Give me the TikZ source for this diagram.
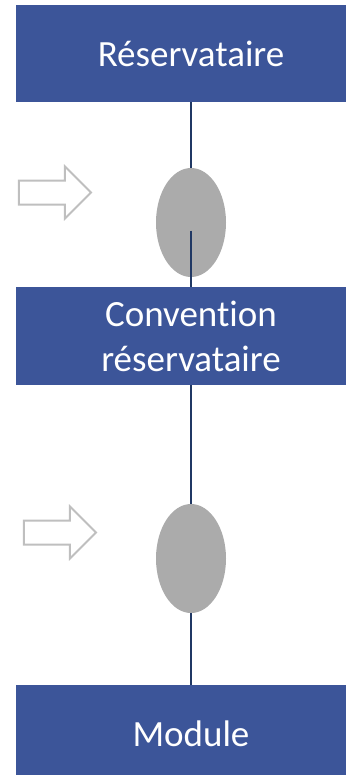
\documentclass[tikz,border=0pt]{standalone}
\usepackage{fontspec}
\setmainfont{Carlito}[Ligatures=NoCommon]
\usetikzlibrary{positioning, shapes.geometric, shapes.arrows}
\definecolor{boxblue}{HTML}{3C5599}
\definecolor{linknavy}{HTML}{203864}
\definecolor{stopgray}{HTML}{ABABAB}
\definecolor{arrowgray}{HTML}{BFBFBF}

\begin{document}
\begin{tikzpicture}[
  box/.style={fill=boxblue, minimum width=350bp, minimum height=97bp,
              inner sep=0pt, outer sep=0pt, text=white, align=center,
              font=\fontsize{37bp}{45bp}\selectfont},
  stop/.style={ellipse, fill=stopgray, minimum width=70bp, minimum height=109bp,
               inner sep=0pt, outer sep=0pt},
  push/.style={single arrow, draw=arrowgray, line width=2bp, fill=white,
               minimum height=72bp, single arrow head extend=14bp,
               inner xsep=0pt, inner ysep=11bp, outer sep=0pt},
  link/.style={draw=linknavy, line width=1.3bp}
]
  \useasboundingbox (0,0) rectangle (346bp,-775bp);
  \clip (0,0) rectangle (346bp,-775bp);

  \node[box] (res) at (191bp,-53.5bp) {Réservataire};
  \node[stop, below=66bp of res] (ell1) {};
  \node[box, below=10bp of ell1, minimum height=98bp] (conv) {Convention\\réservataire};
  \node[stop, below=119bp of conv] (ell2) {};
  \node[box, below=72bp of ell2, minimum height=98bp] (mod) {Module};

  \node[push, left=65bp of ell1, yshift=30bp] (in1) {};
  \node[push, left=60bp of ell2, yshift=26bp] (in2) {};

  \draw[link] (res) -- (ell1);
  \draw[link] ([yshift=-8bp]ell1.center) -- (conv);
  \draw[link] (conv) -- (ell2);
  \draw[link] (ell2) -- (mod);
\end{tikzpicture}
\end{document}
